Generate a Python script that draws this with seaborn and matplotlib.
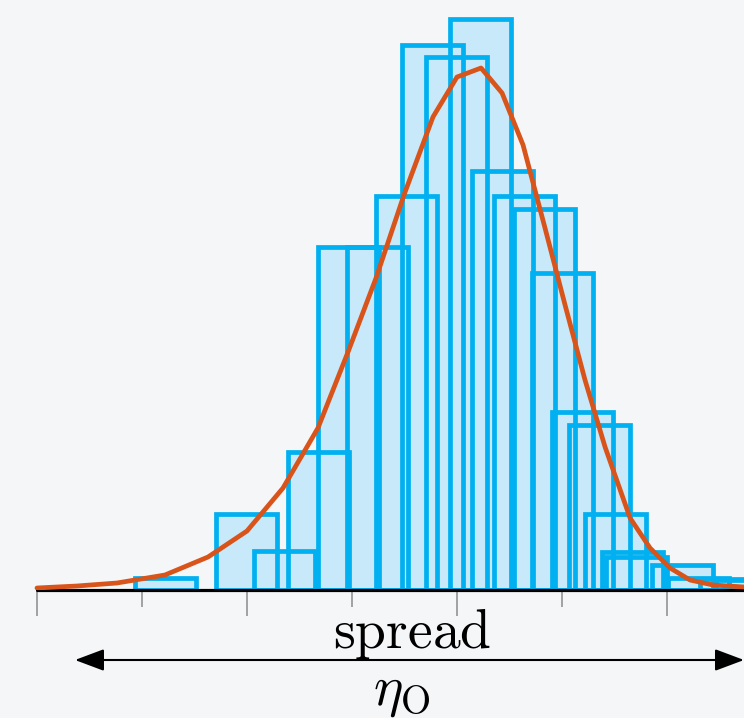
import numpy as np
import matplotlib
matplotlib.use("Agg")
import matplotlib.pyplot as plt
import seaborn as sns

# --- data (x in tick units, heights in arbitrary density units) ---
bar_left = [0.933, 1.705, 2.067, 2.390, 2.676, 2.952, 3.229, 3.476, 3.705, 3.933,
            4.143, 4.352, 4.543, 4.714, 4.905, 5.067, 5.219, 5.381, 5.419, 5.857,
            6.010, 6.314, 6.467]
bar_height = [0.12, 0.76, 0.39, 1.38, 3.43, 3.43, 3.94, 5.45, 5.33, 5.71,
              4.19, 3.94, 3.81, 3.17, 1.78, 1.65, 0.76, 0.38, 0.33, 0.25,
              0.12, 0.11, 0.10]
bar_width = 0.58

curve_x = [0.0, 0.381, 0.762, 1.219, 1.629, 2.0, 2.343, 2.676, 2.962, 3.229,
           3.495, 3.771, 4.0, 4.229, 4.429, 4.629, 4.838, 5.029, 5.219, 5.410,
           5.648, 5.838, 6.029, 6.219, 6.438, 6.733, 7.03]
curve_y = [0.02, 0.04, 0.07, 0.15, 0.33, 0.59, 1.02, 1.62, 2.38, 3.12,
           3.95, 4.73, 5.13, 5.22, 4.97, 4.45, 3.62, 2.85, 2.10, 1.43,
           0.72, 0.42, 0.22, 0.10, 0.05, 0.03, 0.02]

major_ticks = [0, 2, 4, 6]
minor_ticks = [1, 3, 5]

bg = "#f5f6f8"
edge_blue = "#00b0f0"
fill_blue = "#c7e9f9"
orange = "#d9541a"

sns.set_theme(style="white")
plt.rcParams["mathtext.fontset"] = "cm"
plt.rcParams["font.family"] = ["DejaVu Serif"]

fig = plt.figure(figsize=(7.44, 7.18), dpi=100, facecolor=bg)
ax = fig.add_axes([0, 128 / 718, 1, 590 / 718])
ax.set_facecolor(bg)

# fills first, then outlines on top so every edge stays visible
ax.bar(bar_left, bar_height, width=bar_width, align="edge",
       color=fill_blue, linewidth=0, zorder=2)
ax.bar(bar_left, bar_height, width=bar_width, align="edge",
       facecolor="none", edgecolor=edge_blue, linewidth=3.4, zorder=3)

# baseline
ax.plot([0, 7.2], [0, 0], color="black", lw=2.3, zorder=4, clip_on=False)

sns.lineplot(x=curve_x, y=curve_y, ax=ax, color=orange, lw=3.4,
             estimator=None, zorder=5)

ax.set_xlim(-0.352, 6.733)
ax.set_ylim(0, 5.9)
for s in ax.spines.values():
    s.set_visible(False)
ax.set_yticks([])
ax.set_xticks(major_ticks)
ax.set_xticks(minor_ticks, minor=True)
ax.set_xticklabels([])
ax.tick_params(axis="x", which="major", direction="out", length=18.7,
               width=1.1, color="#8a8a8a", bottom=True)
ax.tick_params(axis="x", which="minor", direction="out", length=12.2,
               width=1.1, color="#8a8a8a", bottom=True)

ax.text(3.571, -0.58, r"$\mathrm{spread}$", ha="center", va="baseline",
        fontsize=40, color="black", clip_on=False)
ax.annotate("", xy=(6.733, -0.70), xytext=(0.362, -0.70),
            arrowprops=dict(arrowstyle="<|-|>,head_length=0.4,head_width=0.15",
                            color="black", lw=1.5, mutation_scale=45,
                            shrinkA=0, shrinkB=0),
            annotation_clip=False)
ax.text(3.476, -1.15, r"$\eta_\mathrm{O}$", ha="center", va="baseline",
        fontsize=40, color="black", clip_on=False)

fig.savefig("out.png", dpi=100, facecolor=bg)
